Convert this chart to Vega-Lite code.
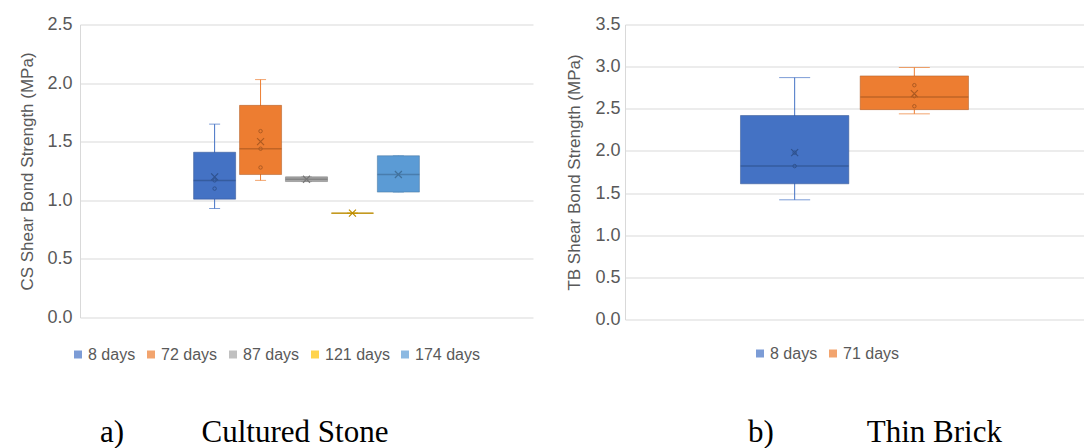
{
  "$schema": "https://vega.github.io/schema/vega-lite/v6.json",
  "background": "white",
  "padding": {"left": 18, "top": 15.5, "right": 0, "bottom": 0},
  "spacing": 32,
  "config": {
    "view": {"stroke": null},
    "font": "Liberation Sans",
    "axis": {
      "labelFont": "Liberation Sans", "labelFontSize": 18, "labelColor": "#595959",
      "titleFont": "Liberation Sans", "titleFontSize": 17, "titleColor": "#595959", "titleFontWeight": "normal",
      "ticks": false, "domain": true, "domainColor": "#d9d9d9", "gridColor": "#d9d9d9", "grid": true
    },
    "legend": {
      "title": null, "direction": "horizontal", "symbolType": "square", "symbolSize": 64,
      "symbolStrokeWidth": 0, "labelFont": "Liberation Sans", "labelFontSize": 16, "labelColor": "#595959",
      "labelOffset": 2, "columnPadding": 7, "padding": 0
    },
    "title": {"font": "Liberation Serif", "fontSize": 31, "color": "black", "fontWeight": "normal"}
  },
  "datasets": {
    "cs": [
      {"group": "CS", "series": "8 days", "min": 0.93, "q1": 1.01, "median": 1.17, "q3": 1.41, "max": 1.65, "mean": 1.20},
      {"group": "CS", "series": "72 days", "min": 1.17, "q1": 1.22, "median": 1.44, "q3": 1.81, "max": 2.03, "mean": 1.50},
      {"group": "CS", "series": "87 days", "min": 1.16, "q1": 1.16, "median": 1.18, "q3": 1.20, "max": 1.20, "mean": 1.18},
      {"group": "CS", "series": "121 days", "min": 0.89, "q1": 0.89, "median": 0.89, "q3": 0.89, "max": 0.89, "mean": 0.89},
      {"group": "CS", "series": "174 days", "min": 1.07, "q1": 1.07, "median": 1.22, "q3": 1.38, "max": 1.38, "mean": 1.22}
    ],
    "csPts": [
      {"group": "CS", "series": "8 days", "value": 1.17},
      {"group": "CS", "series": "8 days", "value": 1.10},
      {"group": "CS", "series": "72 days", "value": 1.59},
      {"group": "CS", "series": "72 days", "value": 1.44},
      {"group": "CS", "series": "72 days", "value": 1.28}
    ],
    "tb": [
      {"series": "8 days", "min": 1.42, "q1": 1.61, "median": 1.82, "q3": 2.42, "max": 2.87, "mean": 1.98},
      {"series": "71 days", "min": 2.44, "q1": 2.49, "median": 2.64, "q3": 2.89, "max": 2.99, "mean": 2.68}
    ],
    "tbPts": [
      {"series": "8 days", "value": 1.82},
      {"series": "8 days", "value": 1.98},
      {"series": "71 days", "value": 2.78},
      {"series": "71 days", "value": 2.65},
      {"series": "71 days", "value": 2.53}
    ]
  },
  "resolve": {
    "scale": {"x": "independent", "y": "independent", "color": "independent", "fill": "independent", "stroke": "independent"},
    "legend": {"color": "independent"}
  },
  "hconcat": [
    {
      "width": 453,
      "height": 293,
      "title": {"text": "a)\u00a0\u00a0\u00a0\u00a0\u00a0\u00a0\u00a0\u00a0\u00a0\u00a0Cultured Stone", "orient": "bottom", "anchor": "start", "frame": "group", "dx": 20, "offset": 79, "baseline": "alphabetic"},
      "encoding": {
        "x": {"field": "group", "type": "nominal", "axis": null,
              "scale": {"paddingInner": 0, "paddingOuter": 0.487}},
        "xOffset": {"field": "series", "type": "nominal", "sort": null,
              "scale": {"domain": ["8 days", "72 days", "87 days", "121 days", "174 days"], "paddingInner": 0.085, "paddingOuter": 0.04}}
      },
      "layer": [
        {
          "data": {"name": "cs"},
          "mark": {"type": "rule", "strokeWidth": 1},
          "encoding": {
            "y": {"field": "min", "type": "quantitative", "title": "CS Shear Bond Strength (MPa)", "scale": {"domain": [0, 2.5], "nice": false},
                  "axis": {"values": [0, 0.5, 1, 1.5, 2, 2.5], "format": ".1f", "labelPadding": 8, "titlePadding": 10}},
            "y2": {"field": "max"},
            "color": {"field": "series", "type": "nominal", "scale": {"domain": ["8 days", "72 days", "87 days", "121 days", "174 days"], "range": ["#4472C4", "#ED7D31", "#A5A5A5", "#FFC000", "#5B9BD5"]}}
          }
        },
        {
          "data": {"name": "cs"},
          "mark": {"type": "tick", "size": 11, "thickness": 1},
          "encoding": {
            "y": {"field": "min", "type": "quantitative", "title": "CS Shear Bond Strength (MPa)"},
            "color": {"field": "series", "type": "nominal"}
          }
        },
        {
          "data": {"name": "cs"},
          "mark": {"type": "tick", "size": 11, "thickness": 1},
          "encoding": {
            "y": {"field": "max", "type": "quantitative", "title": "CS Shear Bond Strength (MPa)"},
            "color": {"field": "series", "type": "nominal"}
          }
        },
        {
          "data": {"name": "cs"},
          "mark": {"type": "bar", "strokeWidth": 1, "strokeOpacity": 0.5},
          "encoding": {
            "y": {"field": "q1", "type": "quantitative", "title": "CS Shear Bond Strength (MPa)"},
            "y2": {"field": "q3"},
            "color": {"field": "series", "type": "nominal", "legend": {"orient": "none", "legendX": -10, "legendY": 322}},
            "stroke": {"field": "series", "type": "nominal", "legend": null,
                       "scale": {"domain": ["8 days", "72 days", "87 days", "121 days", "174 days"], "range": ["#2F528F", "#AE5A21", "#787878", "#BC8C00", "#41719C"]}}
          }
        },
        {
          "data": {"name": "cs"},
          "mark": {"type": "tick", "size": 42, "thickness": 1.5},
          "encoding": {
            "y": {"field": "median", "type": "quantitative", "title": "CS Shear Bond Strength (MPa)"},
            "fill": {"field": "series", "type": "nominal", "legend": null,
                     "scale": {"domain": ["8 days", "72 days", "87 days", "121 days", "174 days"], "range": ["#2F528F", "#AE5A21", "#787878", "#BC8C00", "#41719C"]}}
          }
        },
        {
          "data": {"name": "cs"},
          "mark": {"type": "point", "shape": "M-1,-1L1,1M1,-1L-1,1", "size": 49, "filled": false, "strokeWidth": 1.2, "opacity": 1},
          "encoding": {
            "y": {"field": "mean", "type": "quantitative", "title": "CS Shear Bond Strength (MPa)"},
            "stroke": {"field": "series", "type": "nominal", "legend": null}
          }
        },
        {
          "data": {"name": "csPts"},
          "mark": {"type": "point", "shape": "circle", "size": 12, "filled": false, "strokeWidth": 1, "opacity": 1},
          "encoding": {
            "y": {"field": "value", "type": "quantitative", "title": "CS Shear Bond Strength (MPa)"},
            "stroke": {"field": "series", "type": "nominal", "legend": null}
          }
        }
      ]
    },
    {
      "width": 459,
      "height": 295,
      "title": {"text": "b)\u00a0\u00a0\u00a0\u00a0\u00a0\u00a0\u00a0\u00a0\u00a0\u00a0\u00a0\u00a0Thin Brick", "orient": "bottom", "anchor": "start", "frame": "group", "dx": 123, "offset": 80, "baseline": "alphabetic"},
      "encoding": {
        "x": {"field": "series", "type": "nominal", "axis": null, "sort": null,
              "scale": {"domain": ["8 days", "71 days"], "paddingInner": 0.095, "paddingOuter": 0.965}}
      },
      "layer": [
        {
          "data": {"name": "tb"},
          "mark": {"type": "rule", "strokeWidth": 1},
          "encoding": {
            "y": {"field": "min", "type": "quantitative", "title": "TB Shear Bond Strength (MPa)", "scale": {"domain": [0, 3.5], "nice": false},
                  "axis": {"values": [0, 0.5, 1, 1.5, 2, 2.5, 3, 3.5], "format": ".1f", "labelPadding": 5, "titlePadding": 11}},
            "y2": {"field": "max"},
            "color": {"field": "series", "type": "nominal", "scale": {"domain": ["8 days", "71 days"], "range": ["#4472C4", "#ED7D31"]}}
          }
        },
        {
          "data": {"name": "tb"},
          "mark": {"type": "tick", "size": 31, "thickness": 1},
          "encoding": {
            "y": {"field": "min", "type": "quantitative", "title": "TB Shear Bond Strength (MPa)"},
            "color": {"field": "series", "type": "nominal"}
          }
        },
        {
          "data": {"name": "tb"},
          "mark": {"type": "tick", "size": 31, "thickness": 1},
          "encoding": {
            "y": {"field": "max", "type": "quantitative", "title": "TB Shear Bond Strength (MPa)"},
            "color": {"field": "series", "type": "nominal"}
          }
        },
        {
          "data": {"name": "tb"},
          "mark": {"type": "bar", "strokeWidth": 1, "strokeOpacity": 0.5},
          "encoding": {
            "y": {"field": "q1", "type": "quantitative", "title": "TB Shear Bond Strength (MPa)"},
            "y2": {"field": "q3"},
            "color": {"field": "series", "type": "nominal", "legend": {"orient": "none", "legendX": 127, "legendY": 321}},
            "stroke": {"field": "series", "type": "nominal", "legend": null,
                       "scale": {"domain": ["8 days", "71 days"], "range": ["#2F528F", "#AE5A21"]}}
          }
        },
        {
          "data": {"name": "tb"},
          "mark": {"type": "tick", "size": 108, "thickness": 1.5},
          "encoding": {
            "y": {"field": "median", "type": "quantitative", "title": "TB Shear Bond Strength (MPa)"},
            "fill": {"field": "series", "type": "nominal", "legend": null,
                     "scale": {"domain": ["8 days", "71 days"], "range": ["#2F528F", "#AE5A21"]}}
          }
        },
        {
          "data": {"name": "tb"},
          "mark": {"type": "point", "shape": "M-1,-1L1,1M1,-1L-1,1", "size": 49, "filled": false, "strokeWidth": 1.2, "opacity": 1},
          "encoding": {
            "y": {"field": "mean", "type": "quantitative", "title": "TB Shear Bond Strength (MPa)"},
            "stroke": {"field": "series", "type": "nominal", "legend": null}
          }
        },
        {
          "data": {"name": "tbPts"},
          "mark": {"type": "point", "shape": "circle", "size": 12, "filled": false, "strokeWidth": 1, "opacity": 1},
          "encoding": {
            "y": {"field": "value", "type": "quantitative", "title": "TB Shear Bond Strength (MPa)"},
            "stroke": {"field": "series", "type": "nominal", "legend": null}
          }
        }
      ]
    }
  ]
}
